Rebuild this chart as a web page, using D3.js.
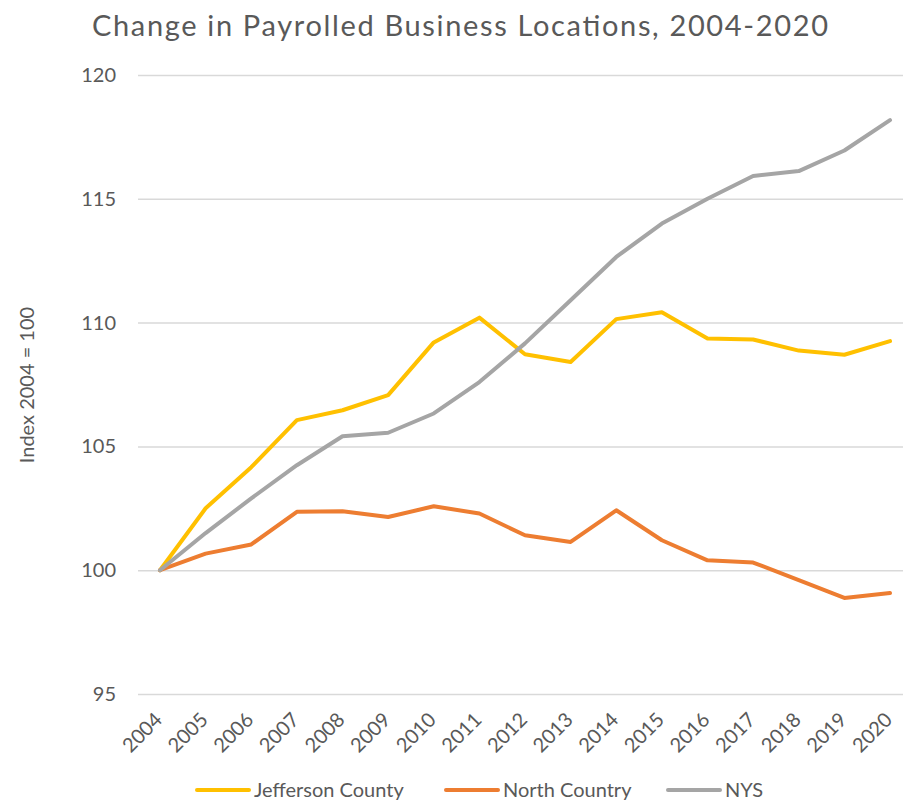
<!DOCTYPE html>
<html>
<head>
<meta charset="utf-8">
<script src="https://cdn.jsdelivr.net/npm/d3@7"></script>
<style>
  body { margin: 0; background: #fff; }
  svg text { font-family: Lato, "Open Sans", sans-serif; fill: #595959; }
</style>
</head>
<body>
<div id="chart"></div>
<script>
// ===== DATA =====
let years = ['2004','2005','2006','2007','2008','2009','2010','2011','2012',
             '2013','2014','2015','2016','2017','2018','2019','2020'];
let jefferson = [100, 102.5, 104.16, 106.06, 106.46, 107.07, 109.2, 110.2, 108.72,
                 108.41, 110.14, 110.42, 109.36, 109.32, 108.87, 108.7, 109.25];
let northCountry = [100, 100.67, 101.04, 102.36, 102.38, 102.15, 102.58, 102.29, 101.41,
                    101.14, 102.42, 101.21, 100.4, 100.31, 99.6, 98.88, 99.08];
let nys = [100, 101.5, 102.9, 104.24, 105.41, 105.55, 106.33, 107.6, 109.16,
           110.9, 112.65, 114.0, 115.0, 115.92, 116.12, 116.95, 118.18];
let yTicks = [95, 100, 105, 110, 115, 120];
let seriesNames = ['Jefferson County', 'North Country', 'NYS'];
let colours = ['#FFC000', '#ED7D31', '#A5A5A5'];

// ===== SETUP =====
let width = 903, height = 804;
let svg = d3.select('#chart').append('svg')
            .attr('width', width)
            .attr('height', height);

let x_scale = d3.scalePoint()
                .domain(years)
                .range([160, 890]);

let y_scale = d3.scaleLinear()
                .domain([95, 120])
                .range([694, 75]);

// title
svg.append('text')
   .attr('x', 460)
   .attr('y', 36)
   .attr('text-anchor', 'middle')
   .attr('font-size', 29)
   .attr('textLength', 736)
   .attr('lengthAdjust', 'spacing')
   .text('Change in Payrolled Business Locations, 2004-2020');

// y axis with gridlines
let y_axis = d3.axisLeft(y_scale)
               .tickValues(yTicks)
               .tickSize(-(905 - 138))
               .tickPadding(22);

svg.append('g')
   .attr('class', 'y_axis')
   .attr('transform', 'translate(138,0)')
   .call(y_axis)
   .call(g => g.select('.domain').remove())
   .call(g => g.selectAll('line').attr('stroke', '#D9D9D9').attr('stroke-width', 1.5))
   .call(g => g.selectAll('text').attr('font-size', 20).attr('fill', '#595959')
                 .style('font-family', 'Lato, sans-serif'));

// y axis title
svg.append('text')
   .attr('transform', 'translate(34,385) rotate(-90)')
   .attr('text-anchor', 'middle')
   .attr('font-size', 20)
   .text('Index 2004 = 100');

// x axis
let x_axis = d3.axisBottom(x_scale)
               .tickSize(0)
               .tickPadding(0);

svg.append('g')
   .attr('class', 'x_axis')
   .attr('transform', 'translate(0,694)')
   .call(x_axis)
   .call(g => g.select('.domain').remove())
   .call(g => g.selectAll('text')
                 .attr('font-size', 20)
                 .attr('fill', '#595959')
                 .style('font-family', 'Lato, sans-serif')
                 .attr('text-anchor', 'end')
                 .attr('dy', 0)
                 .attr('transform', 'translate(3,27) rotate(-45)'));

// lines, drawn in series order
let allSeries = [jefferson, northCountry, nys];
let line = d3.line()
             .x((d, i) => x_scale(years[i]))
             .y(d => y_scale(d));

allSeries.forEach(function(s, k) {
    svg.append('path')
       .datum(s)
       .attr('fill', 'none')
       .attr('stroke', colours[k])
       .attr('stroke-width', 4)
       .attr('stroke-linejoin', 'round')
       .attr('stroke-linecap', 'round')
       .attr('d', line);
});

// legend
let legendX = [197, 446, 668];
let legend = svg.append('g').attr('class', 'legend');
seriesNames.forEach(function(name, k) {
    legend.append('line')
          .attr('x1', legendX[k]).attr('x2', legendX[k] + 52)
          .attr('y1', 790).attr('y2', 790)
          .attr('stroke', colours[k])
          .attr('stroke-width', 4)
          .attr('stroke-linecap', 'round');
    legend.append('text')
          .attr('x', legendX[k] + 57)
          .attr('y', 797)
          .attr('font-size', 20)
          .text(name);
});
</script>
</body>
</html>
